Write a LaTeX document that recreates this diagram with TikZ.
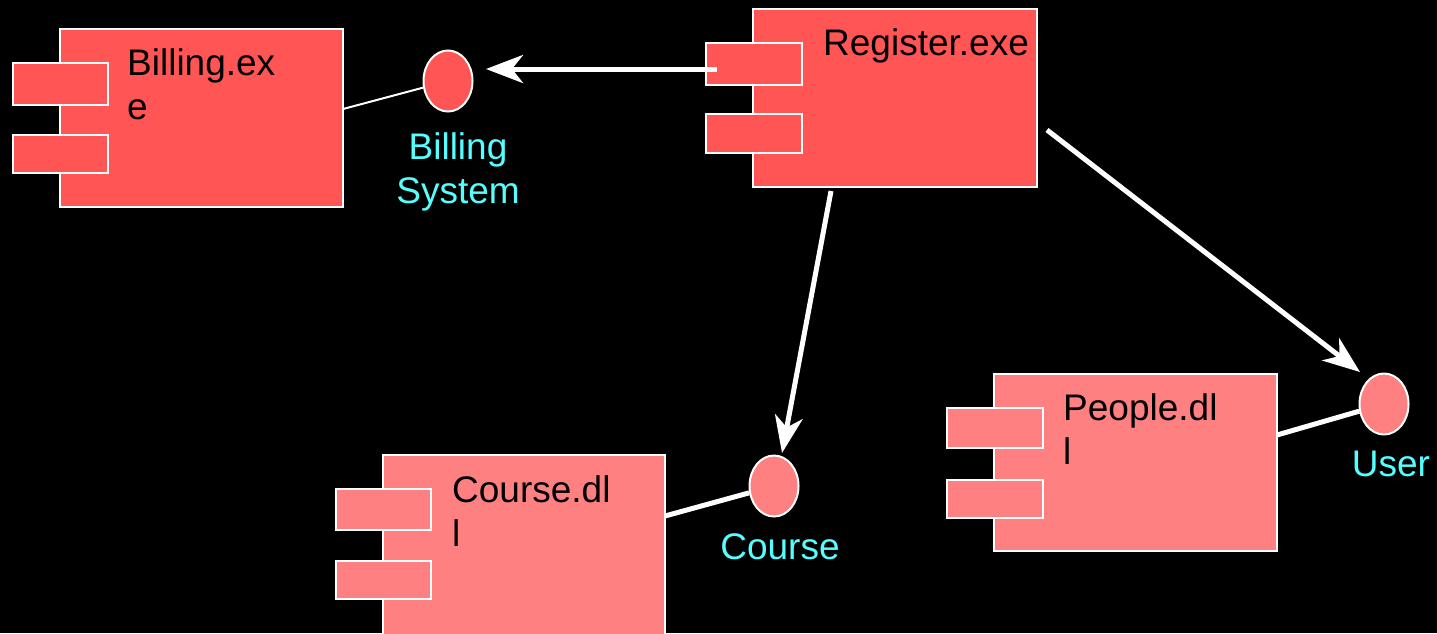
\documentclass[tikz,border=0pt]{standalone}
\usepackage{fontspec}
\setmainfont{Liberation Sans}
\usetikzlibrary{arrows.meta,calc,shapes.geometric}
\definecolor{exeFill}{RGB}{255,85,85}
\definecolor{dllFill}{RGB}{255,128,128}
\definecolor{ifcText}{RGB}{85,255,255}
\begin{document}
\begin{tikzpicture}[x=1pt,y=-1pt,
  body/.style={draw=white, line width=2pt, inner sep=0pt, outer sep=0pt, anchor=north west},
  tab/.style={draw=white, line width=2pt, inner sep=0pt, outer sep=0pt, anchor=north west,
              minimum width=95pt, minimum height=40pt},
  ifc/.style={ellipse, draw=white, line width=2pt, inner sep=0pt, minimum width=49pt, minimum height=61pt},
  cname/.style={anchor=north west, inner sep=0pt, align=left, text=black,
                font=\fontsize{37}{44}\selectfont},
  iname/.style={anchor=north, inner sep=0pt, align=center, text=ifcText,
                font=\fontsize{37}{44}\selectfont},
  thin/.style={draw=white, line width=2pt},
  thick/.style={draw=white, line width=5pt},
  dep/.style={draw=white, line width=5pt, -{Stealth[length=37pt, width=28pt, inset=11pt]}}
]
\path[fill=black] (0,0) rectangle (1437,633);
\useasboundingbox (0,0) rectangle (1437,633);

% Billing.exe
\node[body, fill=exeFill, minimum width=283pt, minimum height=178pt] (billmain) at (60,29) {};
\node[tab, fill=exeFill, minimum height=42pt] (billtab1) at (13,63) {};
\node[tab, fill=exeFill, minimum height=38pt] (billtab2) at (13,135) {};
\node[cname] (billname) at (127,48) {Billing.ex\\e};

% Register.exe
\node[body, fill=exeFill, minimum width=284pt, minimum height=178pt] (regmain) at (753,9) {};
\node[tab, fill=exeFill, minimum width=96pt, minimum height=42pt] (regtab1) at (706,43) {};
\node[tab, fill=exeFill, minimum width=96pt, minimum height=39pt] (regtab2) at (706,114) {};
\node[cname] (regname) at (823,28) {Register.exe};

% Course.dll
\node[body, fill=dllFill, minimum width=282pt, minimum height=180pt] (coursemain) at (383,455) {};
\node[tab, fill=dllFill, minimum height=41pt] (coursetab1) at (336,489) {};
\node[tab, fill=dllFill, minimum height=38pt] (coursetab2) at (336,561) {};
\node[cname] (coursename) at (452,475) {Course.dl\\l};

% People.dll
\node[body, fill=dllFill, minimum width=283pt, minimum height=177pt] (peoplemain) at (994,374) {};
\node[tab, fill=dllFill, minimum width=96pt, minimum height=40pt] (peopletab1) at (947,408) {};
\node[tab, fill=dllFill, minimum width=96pt, minimum height=38pt] (peopletab2) at (947,480) {};
\node[cname] (peoplename) at (1063,393) {People.dl\\l};

% Interfaces
\node[ifc, fill=exeFill] (bsys) at (448,81) {};
\node[iname] (bsyslabel) at (458,132) {Billing\\System};
\node[ifc, fill=dllFill] (course) at (774,486) {};
\node[iname] (courselabel) at (780,533) {Course};
\node[ifc, fill=dllFill] (user) at (1384,404) {};
\node[iname] (userlabel) at (1391,451) {User};

% connector end points
\coordinate (regOut) at (717,69);
\coordinate (bsysIn) at (486,69);
\coordinate (regDown) at (831,191);
\coordinate (courseIn) at (782,453);
\coordinate (regRight) at (1047,130);
\coordinate (userIn) at (1360,372);

% realisations
\draw[thin] ($(billmain.north east)+(0,80)$) -- (bsys);
\draw[thick] ($(coursemain.north east)+(0,61)$) -- (course);
\draw[thick] ($(peoplemain.north east)+(0,61)$) -- (user);

% dependencies
\draw[dep] (regOut) -- (bsysIn);
\draw[dep] (regDown) -- (courseIn);
\draw[dep] (regRight) -- (userIn);
\end{tikzpicture}
\end{document}
